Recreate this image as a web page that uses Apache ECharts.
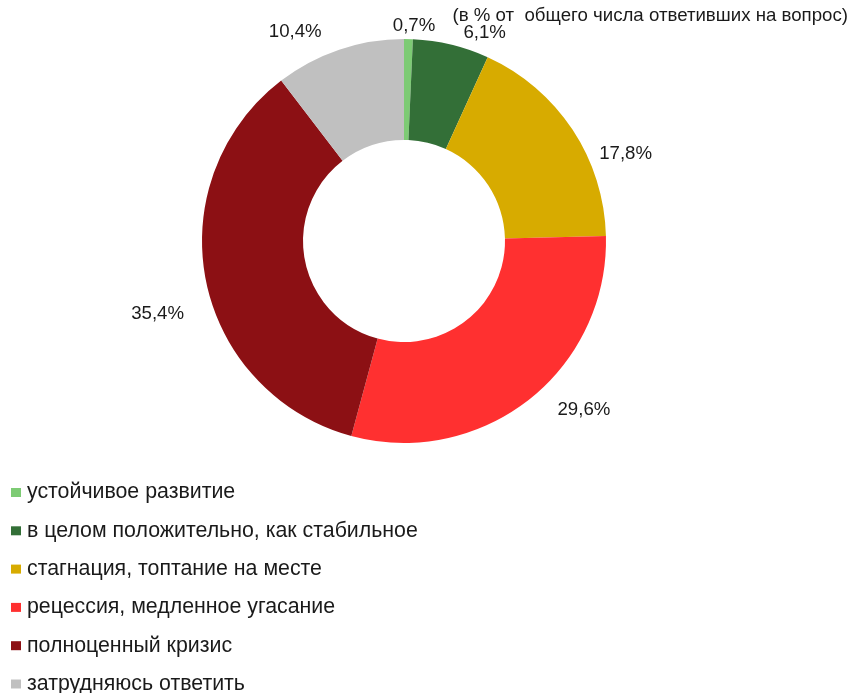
<!DOCTYPE html>
<html>
<head>
<meta charset="utf-8">
<script src="https://cdn.jsdelivr.net/npm/echarts@6/dist/echarts.min.js"></script>
<style>html,body{margin:0;padding:0;background:#fff}#c{width:853px;height:693px}</style>
</head>
<body>
<div id="c"></div>
<script>
const categories = [
  'устойчивое развитие',
  'в целом положительно, как стабильное',
  'стагнация, топтание на месте',
  'рецессия, медленное угасание',
  'полноценный кризис',
  'затрудняюсь ответить'
];
const values = [0.7, 6.1, 17.8, 29.6, 35.4, 10.4];
const colors = ['#7dcb74', '#336f37', '#d7ab00', '#ff3030', '#8c1014', '#c0c0c0'];
const subtitle = '(в % от  общего числа ответивших на вопрос)';

// small nudges of the value labels away from the library's default spot (style only)
const labelNudge = [[-21, 1], [4, 2], [10, 32], [15, -1], [-3, 31], [-8, -5]];

const chart = echarts.init(document.getElementById('c'), null, {renderer: 'canvas'});
const font = 'Liberation Sans, Arial, sans-serif';
chart.setOption({
  animation: false,
  color: colors,
  title: {
    text: subtitle,
    right: 0,
    top: 1,
    textStyle: {fontFamily: font, fontSize: 18.67, fontWeight: 'normal', color: '#1a1a1a'}
  },
  legend: {
    orient: 'vertical',
    left: 11,
    top: 482,
    height: 260,
    padding: 0,
    itemWidth: 10,
    itemHeight: 9,
    itemGap: 17.3,
    icon: 'rect',
    textStyle: {fontFamily: font, fontSize: 21.33, color: '#1a1a1a', padding: [0, 0, 0, 1]},
    data: categories
  },
  series: [{
    type: 'pie',
    center: [404, 241],
    radius: [101, 202],
    startAngle: 90,
    clockwise: true,
    avoidLabelOverlap: false,
    label: {
      show: true,
      position: 'outside',
      fontFamily: font,
      fontSize: 18.67,
      color: '#1a1a1a',
      formatter: p => p.value.toFixed(1).replace('.', ',') + '%'
    },
    labelLine: {show: false, length: 14, length2: 0},
    labelLayout: p => ({dx: labelNudge[p.dataIndex][0], dy: labelNudge[p.dataIndex][1]}),
    emphasis: {disabled: true},
    data: categories.map((n, i) => ({name: n, value: values[i]}))
  }]
});
</script>
</body>
</html>
